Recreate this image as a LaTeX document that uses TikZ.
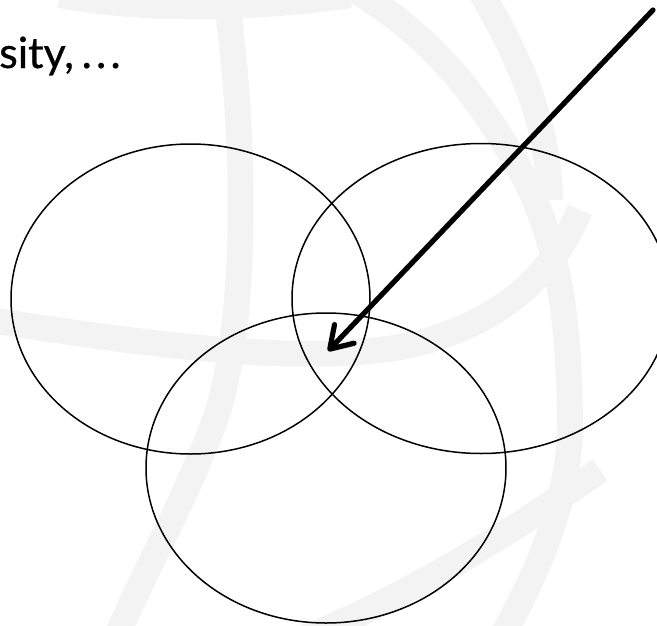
\documentclass[tikz,border=0pt]{standalone}
\usepackage{fontspec}
\setmainfont{Lato}
\newfontface\txtface{Lato}[FakeBold=0.6]
\usetikzlibrary{shapes.geometric,arrows.meta}
\definecolor{wm}{gray}{0.952}
\tikzset{
  wmband/.style={draw=wm, line width=26pt, line cap=butt},
  venn/.style={ellipse, draw=black, line width=1.5pt, inner sep=0pt},
  bigarrow/.style={draw=black, line width=5.2pt, line cap=round,
    -{Straight Barb[length=21pt,width=27pt,line join=round,line cap=round]}}
}
\begin{document}
\begin{tikzpicture}[x=1pt,y=-1pt]
\useasboundingbox (0,0) rectangle (657,625);
\clip (0,0) rectangle (657,625);
\fill[white] (0,0) rectangle (657,625);
% faint background watermark (globe-like bands)
\draw[wmband] (60,-5) .. controls (150,12) and (260,8) .. (350,-5);
\draw[wmband] (225,-10) .. controls (245,120) and (250,320) .. (215,420) .. controls (185,500) and (150,560) .. (115,640);
\draw[wmband] (-10,320) .. controls (150,345) and (330,370) .. (430,340) .. controls (500,318) and (550,280) .. (580,210);
\draw[wmband] (355,-10) .. controls (420,30) and (470,80) .. (520,170) .. controls (560,240) and (570,330) .. (570,430) .. controls (568,500) and (540,570) .. (500,640);
\draw[wmband] (480,-10) .. controls (520,60) and (548,120) .. (550,200);
\draw[wmband] (300,640) .. controls (400,600) and (500,540) .. (600,470);
% three ellipses
\node[venn, minimum width=359pt, minimum height=310pt] (leftell) at (190.5,299) {};
\node[venn, minimum width=378pt, minimum height=310pt] (rightell) at (481,298.5) {};
\node[venn, minimum width=360pt, minimum height=310pt] (bottomell) at (326,468) {};
% text
\node[anchor=base west, inner sep=0pt, font=\txtface\fontsize{43}{52}\selectfont] (txt) at (-1,68) {sity,\hspace{0.18em}.\hspace{0.1em}.\hspace{0.1em}.};
% arrow
\coordinate (arrowstart) at (653,10);
\coordinate (arrowtip) at (328,351);
\draw[bigarrow] (arrowstart) -- (arrowtip);
\end{tikzpicture}
\end{document}
